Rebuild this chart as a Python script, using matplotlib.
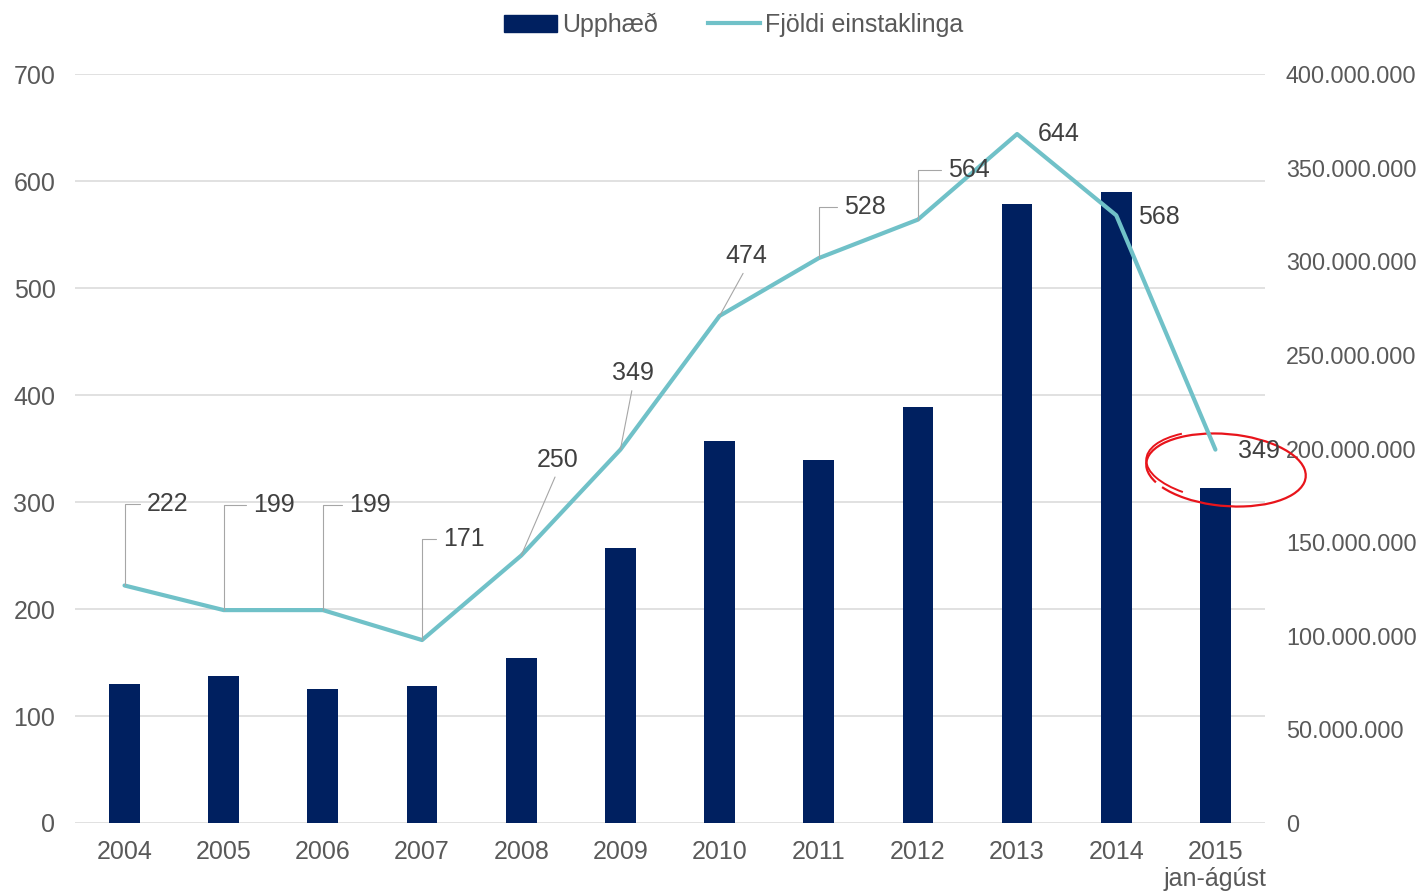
import matplotlib.pyplot as plt
from matplotlib.patches import Arc, Patch
from matplotlib.transforms import IdentityTransform
from matplotlib.lines import Line2D

plt.rcParams['font.family'] = ['Liberation Sans', 'DejaVu Sans']

# gogn
ar = ['2004', '2005', '2006', '2007', '2008', '2009', '2010', '2011', '2012', '2013', '2014', '2015\njan-ágúst']
upphaed = [74200000, 78500000, 71600000, 73200000, 88100000, 146900000, 204000000,
           193900000, 222200000, 330600000, 337000000, 178900000]
fjoldi = [222, 199, 199, 171, 250, 349, 474, 528, 564, 644, 568, 349]

# stadsetning merkja (offset i punktum) og hvort leidarlina er brotin
offs = [(31, 59), (36, 76), (34, 76), (30, 73), (26, 69), (9, 55), (19, 43), (33, 37),
        (37, 36), (30, 0), (31, -1), (31, -1)]
teg = ['horn', 'horn', 'horn', 'horn', 'ska', 'ska', 'ska', 'horn', 'horn', None, None, None]

navy = '#002060'
teal = '#70C1C8'
grar = '#595959'
fs = 18

fig = plt.figure(figsize=(14.22, 8.93), dpi=100)
ax = fig.add_axes([0.0527, 0.0784, 0.8369, 0.8386])
ax2 = ax.twinx()

x = list(range(len(ar)))
ax2.bar(x, upphaed, width=0.31, color=navy, zorder=2)
ax2.set_ylim(0, 400000000)
ax2.set_yticks(range(0, 400000001, 50000000))
ax2.set_yticklabels([f'{v:,}'.replace(',', '.') for v in range(0, 400000001, 50000000)])
# hnitalinur fylgja vinstri as, en liggja aftan vid sulurnar
for t in range(0, 701, 100):
    ax2.axhline(t * 400000000 / 700, color='#D9D9D9', lw=1.1, zorder=0)

ax.set_zorder(ax2.get_zorder() + 1)
ax.patch.set_visible(False)
ax.plot(x, fjoldi, color=teal, lw=3, solid_capstyle='round', zorder=3)
ax.set_ylim(0, 700)
ax.set_xlim(-0.5, len(ar) - 0.5)
ax.set_yticks(range(0, 701, 100))
ax.set_xticks(x)
ax.set_xticklabels(ar)

for a in (ax, ax2):
    for s in a.spines.values():
        s.set_visible(False)
    a.tick_params(length=0, labelsize=fs, labelcolor=grar)
ax.tick_params(axis='y', pad=14)
ax.tick_params(axis='x', pad=12)
ax2.tick_params(axis='y', pad=15, labelsize=16.8)

# gagnamerki
for i, v in enumerate(fjoldi):
    if teg[i] == 'horn':
        ap = dict(arrowstyle='-', color='#A6A6A6', lw=0.8, shrinkA=3, shrinkB=0,
                  relpos=(0, 0.5), connectionstyle='angle,angleA=0,angleB=90,rad=0')
    elif teg[i] == 'ska':
        ap = dict(arrowstyle='-', color='#A6A6A6', lw=0.8, shrinkA=2, shrinkB=0,
                  relpos=(0.5, 0))
    else:
        ap = None
    ax.annotate(str(v), (i, v), xytext=offs[i], textcoords='offset points',
                ha='center', va='center', fontsize=fs, color='#404040',
                arrowprops=ap, zorder=5)

# raudur hringur (handteiknadur)
fig.add_artist(Arc((1226, 893 - 470), 160, 72, angle=-5, theta1=200, theta2=555,
                   color='#E8141B', lw=1.6, transform=IdentityTransform()))
fig.add_artist(Arc((1228, 893 - 466), 164, 70, angle=-5, theta1=150, theta2=215,
                   color='#E8141B', lw=1.4, transform=IdentityTransform()))

h = [Patch(color=navy), Line2D([], [], color=teal, lw=3)]
fig.legend(h, ['Upphæð', 'Fjöldi einstaklinga'], loc='center', bbox_to_anchor=(0.516, 0.972),
           ncol=2, frameon=False, fontsize=fs, labelcolor=grar, handlelength=2.1,
           handletextpad=0.2, columnspacing=2.0)

fig.savefig('out.png', dpi=100)
